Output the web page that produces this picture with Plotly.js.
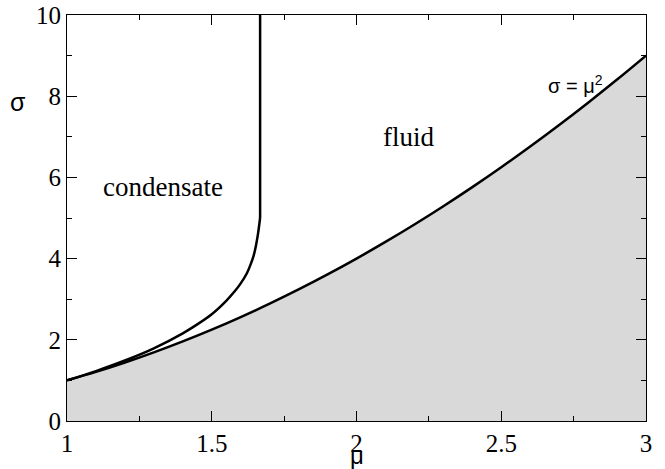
<!DOCTYPE html>
<html>
<head>
<meta charset="utf-8">
<script src="https://cdn.plot.ly/plotly-3.0.1.min.js"></script>
<style>html,body{margin:0;padding:0;background:#fff;}#chart{width:665px;height:469px;}</style>
</head>
<body>
<div id="chart"></div>
<script>
// Lower boundary sigma = mu^2
var muParabola = [1.0, 1.1, 1.2, 1.3, 1.4, 1.5, 1.6, 1.7, 1.8, 1.9, 2.0, 2.1, 2.2, 2.3, 2.4, 2.5, 2.6, 2.7, 2.8, 2.9, 3.0];
var sigmaParabola = [1.0, 1.21, 1.44, 1.69, 1.96, 2.25, 2.56, 2.89, 3.24, 3.61, 4.0, 4.41, 4.84, 5.29, 5.76, 6.25, 6.76, 7.29, 7.84, 8.41, 9.0];

// Condensate / fluid boundary: curved part, then vertical part
var muCondensate = [1.0, 1.1, 1.2, 1.3, 1.4, 1.45, 1.5, 1.55, 1.58, 1.6, 1.62, 1.635, 1.645, 1.653, 1.66, 1.667];
var sigmaCondensate = [1.0, 1.23, 1.49, 1.79, 2.16, 2.38, 2.63, 2.96, 3.20, 3.39, 3.62, 3.87, 4.08, 4.33, 4.62, 5.0];
var muVertical = [1.667, 1.667];
var sigmaVertical = [5.0, 10.0];

var xTickVals = [1, 1.5, 2, 2.5, 3];
var xTickText = ['1', '1.5', '2', '2.5', '3'];
var yTickVals = [0, 2, 4, 6, 8, 10];
var yTickText = ['0', '2', '4', '6', '8', '10'];

var regionLabels = ['condensate', 'fluid'];
var regionMu = [1.332, 2.178];
var regionSigma = [5.76, 7.0];

var serif = 'Times New Roman';
var sans = 'Arial';

var traces = [
  {
    x: muParabola, y: sigmaParabola, type: 'scatter', mode: 'lines',
    line: {color: '#000000', width: 2.5, shape: 'spline'},
    fill: 'tozeroy', fillcolor: '#d9d9d9', hoverinfo: 'skip'
  },
  {
    x: muCondensate, y: sigmaCondensate, type: 'scatter', mode: 'lines',
    line: {color: '#000000', width: 2.5, shape: 'spline', smoothing: 0.8}, hoverinfo: 'skip'
  },
  {
    x: muVertical, y: sigmaVertical, type: 'scatter', mode: 'lines',
    line: {color: '#000000', width: 2.5}, hoverinfo: 'skip'
  }
];

var annotations = [];
for (var i = 0; i < regionLabels.length; i++) {
  annotations.push({
    x: regionMu[i], y: regionSigma[i], xref: 'x', yref: 'y',
    text: regionLabels[i], showarrow: false,
    font: {family: serif, size: 27, color: '#000'},
    xanchor: 'center', yanchor: 'middle'
  });
}
annotations.push({
  x: 2.758, y: 8.3, xref: 'x', yref: 'y',
  text: 'σ = μ<sup>2</sup>', showarrow: false,
  font: {family: sans, size: 20, color: '#000'},
  xanchor: 'center', yanchor: 'middle'
});
annotations.push({
  x: -0.084, y: 7.85, xref: 'paper', yref: 'y',
  text: 'σ', showarrow: false,
  font: {family: sans, size: 25, color: '#000'},
  xanchor: 'center', yanchor: 'middle'
});
annotations.push({
  x: 0.5, y: -0.086, xref: 'paper', yref: 'paper',
  text: 'μ', showarrow: false,
  font: {family: sans, size: 24, color: '#000'},
  xanchor: 'center', yanchor: 'middle'
});

var layout = {
  width: 665, height: 469,
  margin: {l: 67, r: 19, t: 15, b: 48, pad: 0},
  paper_bgcolor: '#ffffff', plot_bgcolor: '#ffffff',
  showlegend: false,
  font: {family: serif, color: '#000'},
  xaxis: {
    range: [1, 3], tickmode: 'array', tickvals: xTickVals, ticktext: xTickText,
    ticks: 'inside', ticklen: 10, tickwidth: 1, tickcolor: '#000',
    showline: true, linecolor: '#000', linewidth: 1, mirror: 'ticks',
    showgrid: false, zeroline: false,
    tickfont: {family: serif, size: 25, color: '#000'},
    minor: {dtick: 0.25, ticks: 'inside', ticklen: 5, tickwidth: 1, tickcolor: '#000', showgrid: false}
  },
  yaxis: {
    range: [0, 10], tickmode: 'array', tickvals: yTickVals, ticktext: yTickText,
    ticks: 'inside', ticklen: 10, tickwidth: 1, tickcolor: '#000',
    showline: true, linecolor: '#000', linewidth: 1, mirror: 'ticks',
    showgrid: false, zeroline: false,
    tickfont: {family: serif, size: 25, color: '#000'},
    minor: {dtick: 1, ticks: 'inside', ticklen: 5, tickwidth: 1, tickcolor: '#000', showgrid: false}
  },
  annotations: annotations
};

Plotly.newPlot('chart', traces, layout, {staticPlot: true, displayModeBar: false});
</script>
</body>
</html>
